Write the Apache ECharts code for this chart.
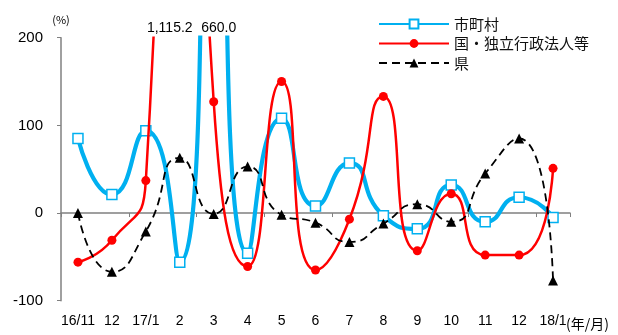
<!DOCTYPE html>
<html>
<head>
<meta charset="utf-8">
<script src="https://cdn.jsdelivr.net/npm/echarts@6/dist/echarts.min.js"></script>
<style>
  html, body { margin: 0; padding: 0; background: #fff; }
  #chart { width: 618px; height: 335px; }
</style>
</head>
<body>
<div id="chart"></div>
<script>
// Month labels (year/month), 2016/11 - 2018/1
const months = ['16/11', '12', '17/1', '2', '3', '4', '5', '6', '7', '8', '9', '10', '11', '12', '18/1'];

// Year-on-year change (%)
const municipal = [85, 21, 94, -56, 660.0, -46, 108, 8, 57, -3, -18, 32, -10, 18, -5];
const national = [-56, -31, 37, 1115.2, 127, -61, 150, -65, -7, 133, -43, 22, -48, -48, 51];
const prefecture = [0, -67, -21, 63, -1, 53, -2, -11, -33, -12, 10, -10, 45, 85, -77];

const seriesNames = ['市町村', '国・独立行政法人等', '県'];
const yTicks = { min: -100, max: 200, step: 100 };

const latin = "'Liberation Sans', Arial, sans-serif";
const narrow = "'Liberation Sans Narrow', 'Arial Narrow', 'Liberation Sans', sans-serif";
const cjk = "'Noto Sans CJK JP', 'Noto Sans', sans-serif";

const fmtValue = v => v.toLocaleString('en-US', { minimumFractionDigits: 1, maximumFractionDigits: 1 });

// Points that run past the top of the axis get their value written at the top edge
function overflowMarks(values, dx) {
  const data = [];
  values.forEach((v, i) => {
    if (v > yTicks.max) data.push({ coord: [i, yTicks.max], value: v });
  });
  return {
    symbol: 'circle',
    symbolSize: 0,
    silent: true,
    label: {
      show: true,
      position: 'top',
      distance: 3,
      offset: [dx, 0],
      color: '#000',
      fontFamily: latin,
      fontSize: 14,
      formatter: p => fmtValue(p.value)
    },
    data
  };
}

const chart = echarts.init(document.getElementById('chart'), null, { renderer: 'canvas' });

chart.setOption({
  animation: false,
  backgroundColor: '#fff',
  grid: { left: 61, right: 48, top: 37.7, bottom: 34.3, containLabel: false, outerBoundsMode: 'none' },
  legend: {
    orient: 'vertical',
    left: 378,
    top: 14.5,
    padding: 0,
    itemGap: 0.5,
    itemWidth: 70,
    itemHeight: 11,
    selectedMode: false,
    textStyle: { fontFamily: cjk, fontSize: 15, color: '#111', lineHeight: 19 },
    data: seriesNames
  },
  xAxis: [
    {
      // month labels along the bottom edge
      type: 'category',
      data: months,
      position: 'bottom',
      boundaryGap: true,
      axisLine: { show: false, onZero: false },
      axisTick: { show: false },
      axisLabel: { margin: 13, interval: 0, color: '#000', fontFamily: narrow, fontSize: 14 },
      splitLine: { show: false }
    },
    {
      // baseline through zero with downward ticks
      type: 'category',
      data: months,
      position: 'top',
      boundaryGap: true,
      axisLine: { show: true, onZero: true, lineStyle: { color: '#808080', width: 1.5 } },
      axisTick: { show: true, inside: true, length: 4, lineStyle: { color: '#808080', width: 1 } },
      axisLabel: { show: false },
      splitLine: { show: false }
    }
  ],
  yAxis: {
    type: 'value',
    min: yTicks.min,
    max: yTicks.max,
    interval: yTicks.step,
    name: '(%)',
    nameLocation: 'end',
    nameGap: 12,
    nameTextStyle: { fontFamily: cjk, fontSize: 11, color: '#000', align: 'center' },
    axisLine: { show: true, lineStyle: { color: '#808080', width: 1.5 } },
    axisTick: { show: true, length: 4, lineStyle: { color: '#808080', width: 1 } },
    axisLabel: { margin: 18, color: '#000', fontFamily: latin, fontSize: 15 },
    splitLine: { show: false }
  },
  series: [
    {
      name: seriesNames[0],
      type: 'line',
      xAxisIndex: 0,
      data: municipal,
      smooth: 0.6,
      clip: true,
      symbol: 'rect',
      symbolSize: 10,
      lineStyle: { color: '#00B0F0', width: 4.2 },
      itemStyle: { color: '#ffffff', borderColor: '#00B0F0', borderWidth: 1.5 },
      markPoint: overflowMarks(municipal, 5),
      z: 2
    },
    {
      name: seriesNames[1],
      type: 'line',
      xAxisIndex: 0,
      data: national,
      smooth: 0.6,
      clip: true,
      symbol: 'circle',
      symbolSize: 9,
      lineStyle: { color: '#FF0000', width: 2.5 },
      itemStyle: { color: '#FF0000' },
      markPoint: overflowMarks(national, -10),
      z: 3
    },
    {
      name: seriesNames[2],
      type: 'line',
      xAxisIndex: 0,
      data: prefecture,
      smooth: 0.6,
      clip: true,
      symbol: 'triangle',
      symbolSize: 10,
      lineStyle: { color: '#000000', width: 1.8, type: [8, 5] },
      itemStyle: { color: '#000000' },
      z: 4
    }
  ],
  graphic: [
    {
      type: 'text',
      left: 566,
      top: 317,
      style: { text: '(年/月)', font: "14px 'Noto Sans CJK JP'", fill: '#000' }
    }
  ]
});
</script>
</body>
</html>
